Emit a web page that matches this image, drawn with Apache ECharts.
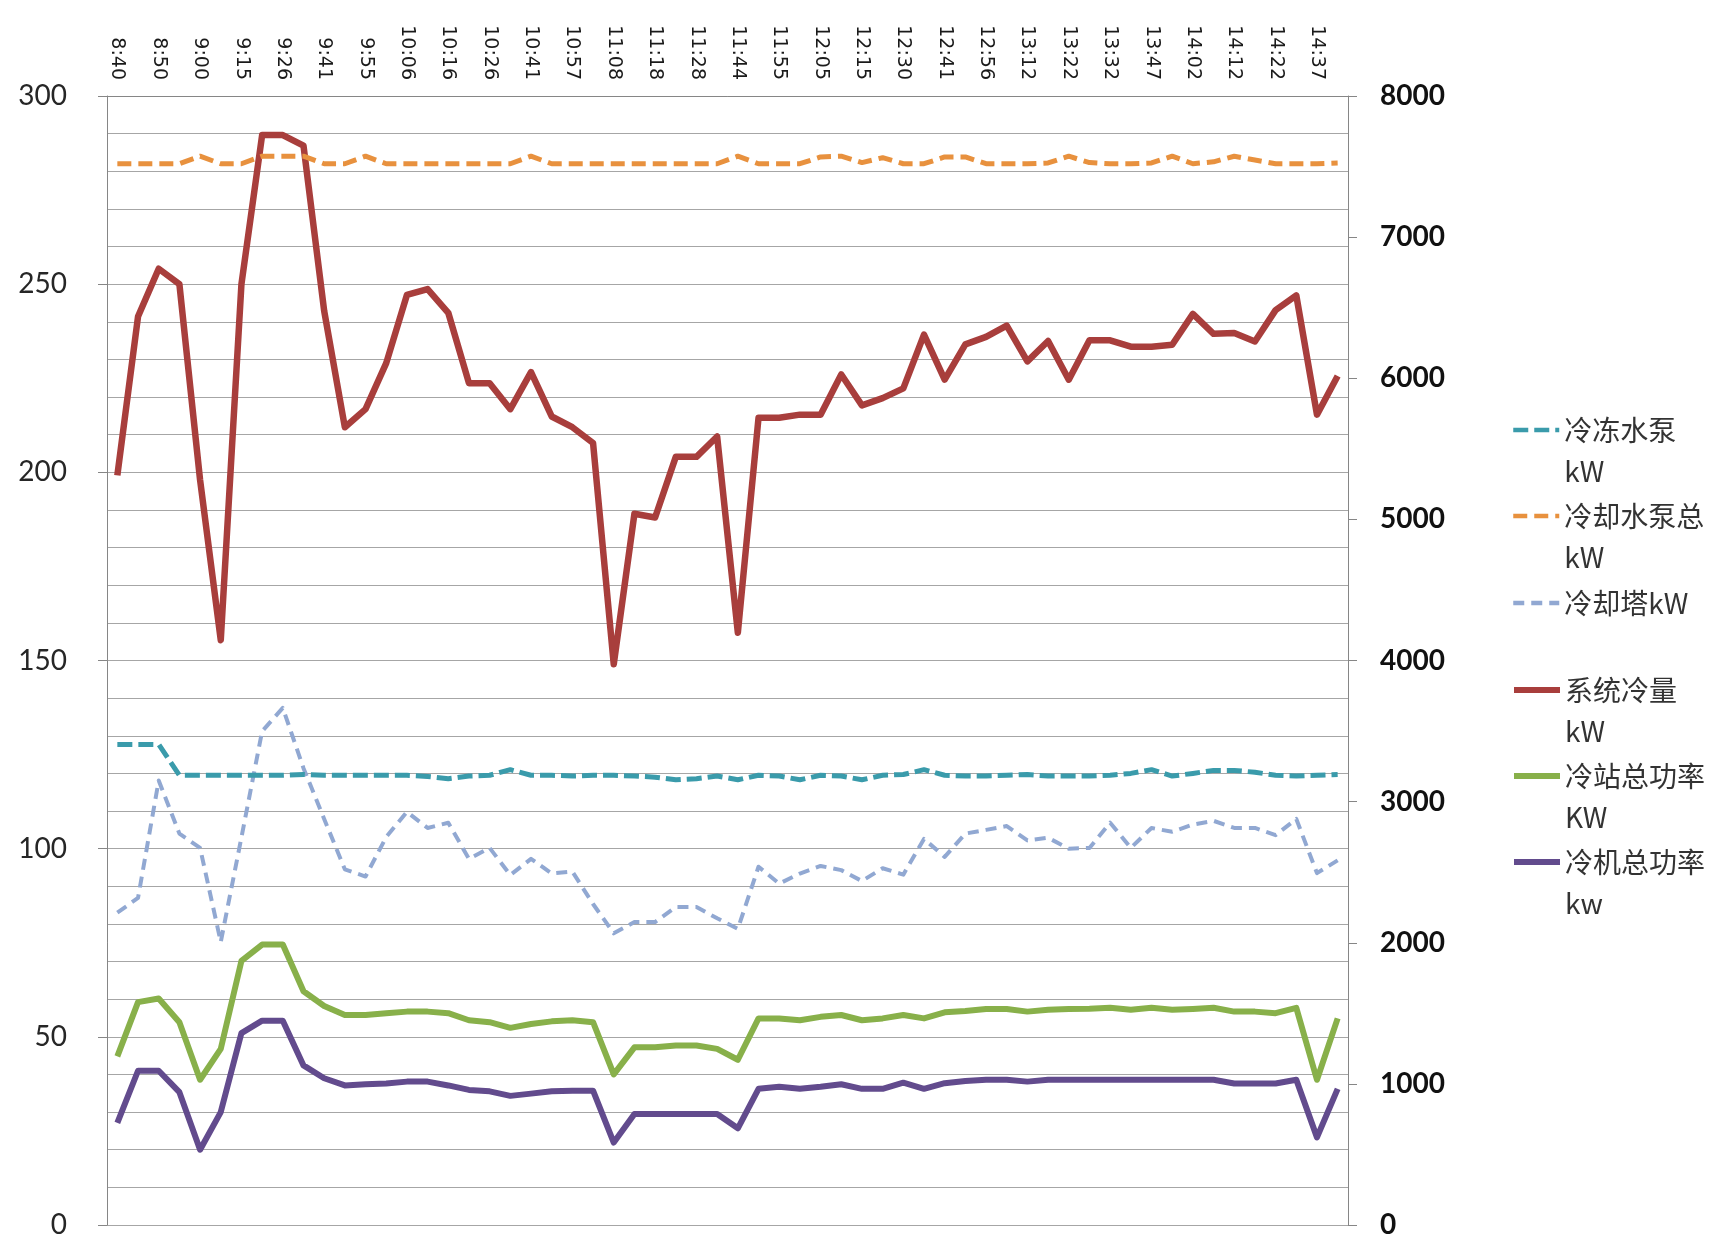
<!DOCTYPE html>
<html>
<head>
<meta charset="utf-8">
<script src="https://cdn.jsdelivr.net/npm/echarts@6/dist/echarts.min.js"></script>
<style>
  html, body { margin: 0; padding: 0; background: #fff; }
  #chart { width: 1729px; height: 1246px; }
</style>
</head>
<body>
<div id="chart"></div>
<script>
// Sample times (every other one is labelled on the axis)
const times = ['8:40','8:45','8:50','8:55','9:00','9:10','9:15','9:21','9:26','9:31',
  '9:41','9:46','9:55','10:01','10:06','10:11','10:16','10:21','10:26','10:36',
  '10:41','10:52','10:57','11:03','11:08','11:13','11:18','11:23','11:28','11:39',
  '11:44','11:49','11:55','12:00','12:05','12:10','12:15','12:25','12:30','12:36',
  '12:41','12:51','12:56','13:07','13:12','13:17','13:22','13:27','13:32','13:42',
  '13:47','13:57','14:02','14:07','14:12','14:17','14:22','14:32','14:37','14:42'];

// Left axis (kW): pumps and cooling towers
const chilledPump = [127.7,127.7,127.7,119.5,119.5,119.5,119.5,119.5,119.5,119.7,
  119.5,119.5,119.5,119.5,119.5,119.2,118.6,119.3,119.5,121,
  119.5,119.5,119.3,119.5,119.5,119.3,119,118.3,118.6,119.3,
  118.3,119.5,119.3,118.3,119.5,119.3,118.3,119.5,119.7,121,
  119.5,119.3,119.3,119.5,119.7,119.3,119.3,119.3,119.5,120,
  121,119.3,120,120.8,120.8,120.3,119.5,119.3,119.5,119.7];

const coolingPump = [282,282,282,282,284,282,282,284,284,284,
  282,282,284,282,282,282,282,282,282,282,
  284,282,282,282,282,282,282,282,282,282,
  284,282,282,282,283.8,284,282.3,283.6,282,282,
  283.8,283.8,282,282,282,282.2,284,282.3,282,282,
  282.2,284,282,282.5,284,283,282,282,282,282.2];

const coolingTower = [83.0,86.9,118.1,104.0,100.2,75.2,103,131.2,137.4,121.4,
  107.9,94.5,92.6,103.1,109.8,105.5,106.9,97.3,100.2,93,
  97.3,93.4,93.9,85.3,77.5,80.5,80.5,84.5,84.5,81.5,
  78.7,95.2,90.7,93.4,95.4,94.3,91.4,94.8,93.1,102.6,
  97.8,104,105,106,102.2,102.9,100,100.2,106.9,100.2,
  105.5,104.5,106.4,107.4,105.5,105.5,103.6,107.9,93.5,96.9];

// Right axis (kW): cooling load and plant / chiller power
const coolingLoad = [5312,6437,6776,6667,5280,4144,6667,7723,7723,7648,
  6477,5653,5781,6107,6590,6632,6464,5965,5965,5781,
  6043,5729,5653,5541,3973,5040,5013,5443,5443,5587,
  4197,5720,5720,5742,5742,6027,5808,5859,5928,6309,
  5990,6240,6293,6373,6120,6264,5990,6269,6269,6224,
  6224,6237,6456,6315,6320,6261,6483,6587,5742,6016];

const plantPower = [1195,1579,1605,1437,1029,1248,1872,1987,1987,1656,
  1552,1488,1488,1501,1512,1512,1501,1451,1437,1397,
  1424,1443,1451,1437,1067,1259,1259,1272,1272,1248,
  1171,1464,1464,1451,1475,1488,1451,1464,1488,1464,
  1507,1517,1531,1531,1512,1525,1531,1533,1539,1525,
  1539,1525,1531,1539,1512,1512,1501,1539,1029,1464];

const chillerPower = [723,1093,1093,941,533,800,1360,1448,1448,1131,
  1040,989,997,1003,1016,1016,989,957,947,915,
  931,947,952,952,584,787,787,787,787,787,
  685,965,979,965,979,997,965,965,1008,965,
  1005,1021,1029,1029,1016,1029,1029,1029,1029,1029,
  1029,1029,1029,1029,1003,1003,1003,1029,621,965];

const seriesNames = ['冷冻水泵kW', '冷却水泵总kW', '冷却塔kW', '系统冷量kW', '冷站总功率KW', '冷机总功率kw'];

// Long legend names wrap before the unit; an empty leading line keeps the
// first text line level with the legend line sample.
function isWrapped(name) {
  const m = name.match(/^(.*?)([kK][wW])$/);
  return !!(m && m[1].length >= 4);
}
function legendText(name) {
  if (!isWrapped(name)) return name;
  const m = name.match(/^(.*?)([kK][wW])$/);
  return '\n' + m[1] + '\n' + m[2];
}

const specs = [
  { data: chilledPump,  axis: 0, color: '#3A9BAB', width: 5,   type: [15, 6] },
  { data: coolingPump,  axis: 0, color: '#E8913E', width: 5,   type: [14, 7] },
  { data: coolingTower, axis: 0, color: '#91A8D2', width: 4,   type: [11, 7] },
  { data: coolingLoad,  axis: 1, color: '#A83E3C', width: 6.5, type: 'solid' },
  { data: plantPower,   axis: 1, color: '#88B04A', width: 6,   type: 'solid' },
  { data: chillerPower, axis: 1, color: '#624B8D', width: 6,   type: 'solid' }
];

// Vertical centre of each legend line sample
const legendCentres = [437, 523, 610, 697, 783, 869];
const LINE_H = 41;

const series = specs.map((s, i) => ({
  name: seriesNames[i],
  type: 'line',
  yAxisIndex: s.axis,
  data: s.data,
  symbol: 'none',
  color: s.color,
  itemStyle: { color: s.color },
  lineStyle: { color: s.color, width: s.width, type: s.type, join: 'round' },
  z: 10 - i
}));

const legends = seriesNames.map((n, i) => {
  const lines = isWrapped(n) ? 3 : 1;
  return {
    data: [n],
    orient: 'vertical',
    left: 1511,
    top: legendCentres[i] - 7 - lines * LINE_H / 2,
    padding: 0,
    itemWidth: 46,
    itemHeight: 14,
    itemStyle: { opacity: 0 },
    lineStyle: { width: i < 3 ? 4.5 : 6 },
    formatter: legendText,
    textStyle: {
      fontFamily: 'Noto Sans CJK SC',
      fontSize: 28,
      color: '#333333',
      lineHeight: LINE_H
    }
  };
});

const chart = echarts.init(document.getElementById('chart'), null, { renderer: 'canvas' });
chart.setOption({
  animation: false,
  backgroundColor: '#ffffff',
  grid: { left: 107, right: 381, top: 96, bottom: 21, containLabel: false },
  legend: legends,
  xAxis: {
    type: 'category',
    position: 'top',
    data: times,
    boundaryGap: true,
    axisLine: { onZero: false, lineStyle: { color: '#868686', width: 1 } },
    axisTick: { interval: 0, length: 9, lineStyle: { color: '#868686' } },
    axisLabel: {
      interval: 1, rotate: 90, margin: 16,
      fontFamily: 'DejaVu Sans', fontSize: 19, color: '#1a1a1a'
    },
    splitLine: { show: false }
  },
  yAxis: [
    {
      type: 'value', position: 'left', min: 0, max: 300, interval: 50,
      axisLine: { show: true, lineStyle: { color: '#868686' } },
      axisTick: { show: true, length: 9, lineStyle: { color: '#868686' } },
      axisLabel: { margin: 40, fontFamily: 'Lato', fontSize: 28, color: '#262626' },
      splitLine: { show: true, lineStyle: { color: '#A6A6A6', width: 1.2 } },
      minorTick: { show: false, splitNumber: 5 },
      minorSplitLine: { show: true, lineStyle: { color: '#A6A6A6', width: 1.2 } }
    },
    {
      type: 'value', position: 'right', min: 0, max: 8000, interval: 1000,
      axisLine: { show: true, lineStyle: { color: '#868686' } },
      axisTick: { show: true, length: 9, lineStyle: { color: '#868686' } },
      axisLabel: {
        margin: 32, fontFamily: 'Lato', fontWeight: 'bold', fontSize: 28, color: '#111111',
        formatter: v => String(v)
      },
      splitLine: { show: false }
    }
  ],
  series: series
});
</script>
</body>
</html>
